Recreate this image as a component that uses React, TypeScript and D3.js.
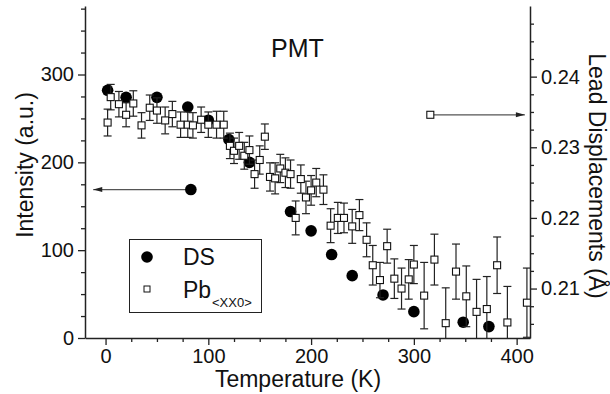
import React, { useEffect, useRef } from 'react'
import * as d3 from 'd3'

// DS intensity (left axis)
const dsTemp = [2, 20, 50, 80, 100, 120, 140, 180, 200, 220, 240, 270, 300, 348, 373]
const dsIntensity = [282, 274, 274, 263, 248, 226, 200, 144, 122, 95, 71, 49, 30, 18, 13]

// Pb<XX0> lead displacements (right axis)
const pbTemp = [2, 5, 13, 20, 27, 35, 43, 50, 58, 65, 73, 80, 85, 93, 100, 108, 115, 121, 125, 130,
  135, 140, 145, 150, 155, 160, 165, 170, 175, 180, 185, 190, 195, 200, 205, 212, 219, 226, 232, 240,
  247, 254, 260, 267, 274, 281, 288, 295, 300, 310, 320, 331, 341, 351, 361, 371, 381, 391, 410]
const pbDisp = [0.2335, 0.2371, 0.2361, 0.2346, 0.2362, 0.2331, 0.2356, 0.2352, 0.2338, 0.2347,
  0.2332, 0.2332, 0.2331, 0.2339, 0.2332, 0.2332, 0.2332, 0.2302, 0.2295, 0.2302,
  0.2288, 0.2296, 0.2262, 0.2282, 0.2315, 0.2258, 0.2256, 0.2270, 0.2264, 0.2262,
  0.2200, 0.2255, 0.2229, 0.2239, 0.2250, 0.2240, 0.2189, 0.2200, 0.2200, 0.2188,
  0.2204, 0.2169, 0.2133, 0.2112, 0.2160, 0.2114, 0.2100, 0.2113, 0.2134, 0.2090,
  0.2141, 0.2051, 0.2124, 0.2089, 0.2067, 0.2071, 0.2133, 0.2052, 0.2080]
const pbErr = [0.0019, 0.0018, 0.0018, 0.0017, 0.0018, 0.0018, 0.0018, 0.0018, 0.0019, 0.0018,
  0.0018, 0.0018, 0.0018, 0.0018, 0.0018, 0.0019, 0.0019, 0.0018, 0.0018, 0.0019,
  0.0019, 0.002, 0.002, 0.002, 0.0018, 0.002, 0.0022, 0.002, 0.0021, 0.002,
  0.0024, 0.002, 0.0023, 0.0021, 0.002, 0.0021, 0.0024, 0.0022, 0.0021, 0.0024,
  0.0022, 0.0024, 0.0028, 0.0025, 0.0024, 0.0028, 0.0029, 0.0028, 0.0027, 0.0047,
  0.0036, 0.005, 0.0039, 0.0043, 0.0046, 0.0046, 0.004, 0.0051, 0.0049]

const xMajor = [0, 100, 200, 300, 400]
const yLeftMajor = [0, 100, 200, 300]
const yRightMajor = [0.21, 0.22, 0.23, 0.24]

// arrow annotations (data coords)
const dsArrow = { from: [83, 169], to: -12 }
const pbArrow = { from: [316, 0.2346], to: 408 }

const FONT = 'Liberation Sans, Arial, sans-serif'

export default function App() {
  const svgRef = useRef(null)
  const width = 610
  const height = 394

  useEffect(() => {
    const svg = d3.select(svgRef.current)
    svg.selectAll('*').remove()

    const left = 85, right = 530, top = 6, bottom = 338
    const x = d3.scaleLinear().domain([-20, 413]).range([left, right])
    const yL = d3.scaleLinear().domain([0, 378]).range([bottom, top])
    const yR = d3.scaleLinear().domain([0.203, 0.25]).range([bottom, top])

    svg.append('defs').append('clipPath').attr('id', 'plot-clip')
      .append('rect').attr('x', left).attr('y', top).attr('width', right - left).attr('height', bottom - top)

    const styleAxis = (g, size) => {
      g.attr('font-family', FONT).attr('font-size', size)
      g.selectAll('path').attr('stroke', '#222').attr('stroke-width', 1.5)
      g.selectAll('line').attr('stroke', '#222').attr('stroke-width', 1.3)
      g.selectAll('text').attr('fill', '#111')
    }

    // x axis
    const xMinor = d3.range(25, 413, 25).filter(v => v % 100 !== 0)
    svg.append('g').attr('transform', `translate(0,${bottom})`)
      .call(d3.axisBottom(x).tickValues(xMinor).tickSize(4).tickFormat(() => '').tickSizeOuter(0))
      .call(g => styleAxis(g, 20))
    svg.append('g').attr('transform', `translate(0,${bottom})`)
      .call(d3.axisBottom(x).tickValues(xMajor).tickSize(7).tickPadding(4).tickSizeOuter(0))
      .call(g => styleAxis(g, 20))
      .call(g => g.select('.domain').remove())

    // left axis
    const yMinor = d3.range(25, 378, 25).filter(v => v % 100 !== 0)
    svg.append('g').attr('transform', `translate(${left},0)`)
      .call(d3.axisLeft(yL).tickValues(yMinor).tickSize(4).tickFormat(() => '').tickSizeOuter(0))
      .call(g => styleAxis(g, 20))
    svg.append('g').attr('transform', `translate(${left},0)`)
      .call(d3.axisLeft(yL).tickValues(yLeftMajor).tickSize(7).tickPadding(4).tickSizeOuter(0))
      .call(g => styleAxis(g, 20))
      .call(g => g.select('.domain').remove())

    // right axis
    const rMinor = d3.range(0, 18).map(i => 0.205 + i * 0.0025)
      .filter(v => Math.abs(v * 100 - Math.round(v * 100)) > 1e-6)
    svg.append('g').attr('transform', `translate(${right},0)`)
      .call(d3.axisRight(yR).tickValues(rMinor).tickSize(4).tickFormat(() => '').tickSizeOuter(0))
      .call(g => styleAxis(g, 20))
    svg.append('g').attr('transform', `translate(${right},0)`)
      .call(d3.axisRight(yR).tickValues(yRightMajor).tickSize(7).tickPadding(4).tickFormat(d3.format('.2f')).tickSizeOuter(0))
      .call(g => styleAxis(g, 20))
      .call(g => g.select('.domain').remove())

    const plot = svg.append('g').attr('clip-path', 'url(#plot-clip)')

    // DS circles
    plot.selectAll('.ds').data(dsTemp).enter().append('circle')
      .attr('cx', d => x(d)).attr('cy', (d, i) => yL(dsIntensity[i]))
      .attr('r', 5.8).attr('fill', '#000')

    // Pb error bars
    const pb = pbTemp.map((t, i) => ({ t, v: pbDisp[i], e: pbErr[i] }))
    const eb = plot.selectAll('.eb').data(pb).enter().append('g').attr('stroke', '#222').attr('stroke-width', 1.2)
    eb.append('line')
      .attr('x1', d => x(d.t)).attr('x2', d => x(d.t))
      .attr('y1', d => yR(d.v - d.e)).attr('y2', d => yR(d.v + d.e))
    eb.append('line')
      .attr('x1', d => x(d.t) - 4).attr('x2', d => x(d.t) + 4)
      .attr('y1', d => yR(d.v + d.e)).attr('y2', d => yR(d.v + d.e))
    eb.append('line')
      .attr('x1', d => x(d.t) - 4).attr('x2', d => x(d.t) + 4)
      .attr('y1', d => yR(d.v - d.e)).attr('y2', d => yR(d.v - d.e))

    plot.selectAll('.pb').data(pb).enter().append('rect')
      .attr('x', d => x(d.t) - 3.5).attr('y', d => yR(d.v) - 3.5)
      .attr('width', 7).attr('height', 7)
      .attr('fill', '#fff').attr('stroke', '#111').attr('stroke-width', 1.1)

    // arrows
    const arrowHead = (xTip, yTip, dir) => {
      svg.append('path')
        .attr('d', `M${xTip},${yTip} L${xTip - dir * 9},${yTip - 2.5} L${xTip - dir * 9},${yTip + 2.5} Z`)
        .attr('fill', '#222')
    }
    const ax1 = x(dsArrow.from[0]), ay1 = yL(dsArrow.from[1])
    svg.append('line').attr('x1', ax1).attr('x2', x(dsArrow.to)).attr('y1', ay1).attr('y2', ay1)
      .attr('stroke', '#555').attr('stroke-width', 1.3)
    arrowHead(x(dsArrow.to), ay1, -1)
    svg.append('circle').attr('cx', ax1).attr('cy', ay1).attr('r', 5.8).attr('fill', '#000')

    const bx1 = x(pbArrow.from[0]), by1 = yR(pbArrow.from[1])
    svg.append('line').attr('x1', bx1).attr('x2', x(pbArrow.to)).attr('y1', by1).attr('y2', by1)
      .attr('stroke', '#555').attr('stroke-width', 1.3)
    arrowHead(x(pbArrow.to), by1, 1)
    svg.append('rect').attr('x', bx1 - 3.5).attr('y', by1 - 3.5).attr('width', 7).attr('height', 7)
      .attr('fill', '#fff').attr('stroke', '#111').attr('stroke-width', 1.1)

    // legend
    const lg = svg.append('g')
    lg.append('rect').attr('x', 129.5).attr('y', 239.5).attr('width', 132).attr('height', 73)
      .attr('fill', '#fff').attr('stroke', '#222').attr('stroke-width', 1)
    lg.append('circle').attr('cx', 147).attr('cy', 257).attr('r', 5.8).attr('fill', '#000')
    lg.append('rect').attr('x', 144).attr('y', 286).attr('width', 6).attr('height', 6)
      .attr('fill', '#fff').attr('stroke', '#111').attr('stroke-width', 1)
    lg.append('text').attr('x', 183).attr('y', 264.5).attr('font-family', FONT).attr('font-size', 23)
      .attr('fill', '#111').text('DS')
    const pbText = lg.append('text').attr('x', 183).attr('y', 297.5).attr('font-family', FONT)
      .attr('font-size', 23).attr('fill', '#111')
    pbText.append('tspan').text('Pb')
    pbText.append('tspan').attr('x', 212).attr('y', 307).attr('font-size', 13).text('<XX0>')

    // titles
    svg.append('text').attr('x', 271).attr('y', 57).attr('font-family', FONT).attr('font-size', 25)
      .attr('fill', '#111').text('PMT')
    svg.append('text').attr('x', 298).attr('y', 387).attr('text-anchor', 'middle')
      .attr('font-family', FONT).attr('font-size', 23).attr('fill', '#111').text('Temperature (K)')
    svg.append('text').attr('transform', 'translate(33,165) rotate(-90)').attr('text-anchor', 'middle')
      .attr('font-family', FONT).attr('font-size', 23).attr('fill', '#111').text('Intensity (a.u.)')
    svg.append('text').attr('transform', 'translate(589,176) rotate(90)').attr('text-anchor', 'middle')
      .attr('font-family', FONT).attr('font-size', 23).attr('fill', '#111').text('Lead Displacements (Å)')
  }, [])

  return (
    <svg ref={svgRef} width={width} height={height}
      style={{ position: 'absolute', left: 0, top: 0, background: '#fff' }} />
  )
}
